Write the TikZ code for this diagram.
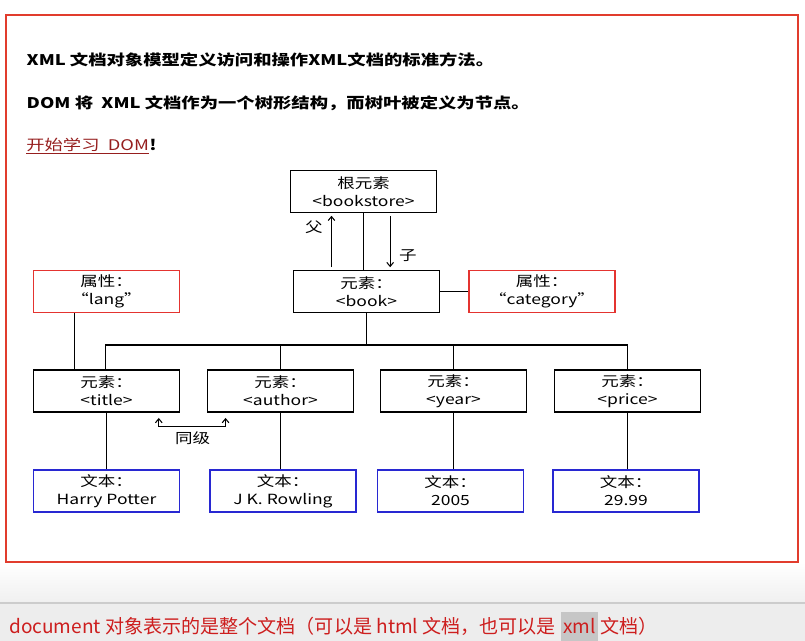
\documentclass[tikz,border=0pt]{standalone}
\usepackage{fontspec}
\setmainfont{Noto Sans CJK SC}[FakeStretch=1.25]
\newfontfamily\barfont{Noto Sans CJK SC}
\usetikzlibrary{arrows.meta, positioning}

\definecolor{framered}{RGB}{225,60,45}
\definecolor{boxred}{RGB}{228,52,48}
\definecolor{boxblue}{RGB}{40,40,210}
\definecolor{linkred}{RGB}{150,30,30}
\definecolor{noticered}{RGB}{205,30,30}

\begin{document}
\begin{tikzpicture}[x=0.75pt, y=-0.75pt, font=\fontsize{10.5}{13.5}\selectfont,
  elem/.style={draw=black, line width=0.9pt, fill=white, minimum width=109.5pt,
    minimum height=31.5pt, inner sep=0pt, align=center},
  attr/.style={elem, draw=boxred},
  txt/.style={elem, draw=boxblue},
  link/.style={line width=0.8pt},
  tip/.style={-{Straight Barb[length=3pt, width=5pt]}},
  headline/.style={anchor=west, font=\fontsize{11}{13}\selectfont\bfseries}]

\useasboundingbox (0,0) rectangle (805,641);

% Page background and bottom bar
\fill[white] (0,0) rectangle (805,641);
\shade[top color=white, bottom color=gray!12] (0,562) rectangle (805,603);
\fill[gray!14] (0,603) rectangle (805,641);
\draw[gray!40, line width=0.8pt] (0,603) -- (805,603);

% Page frame
\draw[framered, line width=1.1pt, fill=white] (6,15) rectangle (798,562);

% Heading lines
\node[headline] (intro) at (22,60) {XML 文档对象模型定义访问和操作XML文档的标准方法。};
\node[headline] (tree) at (22,103) {DOM 将\ \ XML 文档作为一个树形结构，而树叶被定义为节点。};
\node[headline, inner xsep=0pt, text=linkred, font=\fontsize{11}{13}\selectfont] (learn) at (26,145) {开始学习\ \ DOM};
\node[anchor=base west, inner xsep=0pt, font=\fontsize{11}{13}\selectfont\bfseries] (bang) at (learn.base east) {!};
\draw[linkred, line width=0.7pt] ([yshift=-2pt]learn.base west) -- ([yshift=-2pt]learn.base east);

% Tree nodes
\node[elem] (root) at (363.5,191.5) {根元素\\<bookstore>};
\node[elem] (book) at (366.5,291.5) {元素：\\<book>};
\node[attr] (lang) at (106.5,291.5) {属性：\\“lang”};
\node[attr] (cat) at (542,291.5) {属性：\\“category”};
\foreach \n/\x in {title/106.5, author/280.5, year/453.5, price/627.5}
  \node[elem] (\n) at (\x,391) {元素：\\<\n>};
\foreach \n/\x/\v in {title/106.5/Harry Potter, author/283/J K. Rowling,
                      year/450.5/2005, price/626/29.99}
  \node[txt] (t\n) at (\x,491) {文本：\\\v};

% Parent / child links
\draw[link] (root.south) -- (root.south |- book.north);
\draw[link, tip, shorten <=2pt, shorten >=2pt] ([xshift=-24pt]root.south |- book.north)
  -- ([xshift=-24pt]root.south) node[pos=0.75, left=3pt] {父};
\draw[link, tip, shorten <=2pt, shorten >=2pt] ([xshift=20pt]root.south)
  -- ([xshift=20pt]root.south |- book.north) node[pos=0.75, right=3pt] {子};

% Attributes
\draw[link] (book.east) -- (cat.west);
\draw[link] ([xshift=-24pt]lang.south) -- ([xshift=-24pt]lang.south |- title.north);

% Children of book
\coordinate (bus) at (366.5,345);
\draw[link] (book.south) -- (bus);
\draw[link] ([xshift=-1pt]title.north) |- (bus) -| (price.north);
\foreach \n in {author, year}
  \draw[link] (\n.north) -- (\n.north |- bus);
\foreach \n in {title, author, year, price}
  \draw[link] (\n.south) -- (\n.south |- t\n.north);

% Siblings
\draw[link, {Straight Barb[length=3pt, width=5pt]}-{Straight Barb[length=3pt, width=5pt]}]
  ([xshift=-16pt, yshift=-4pt]title.south east) -- ++(0,9) -| ([xshift=14pt, yshift=-4pt]author.south west);
\node (sib) at (192.5,438) {同级};

% Bottom note
\begin{scope}[every node/.style={text=noticered, font=\barfont\fontsize{14.3}{16}\selectfont, inner ysep=0pt}]
  \node[anchor=west, inner xsep=0pt] (note) at (9,626) {document 对象表示的是整个文档（可以是 html 文档，也可以是};
  \node[base right=3pt of note, fill=gray!45, inner xsep=2pt, text height=15.5pt, text depth=7pt] (hl) {xml};
  \node[base right=1pt of hl, inner xsep=0pt] (note2) {文档）};
\end{scope}

\end{tikzpicture}
\end{document}
